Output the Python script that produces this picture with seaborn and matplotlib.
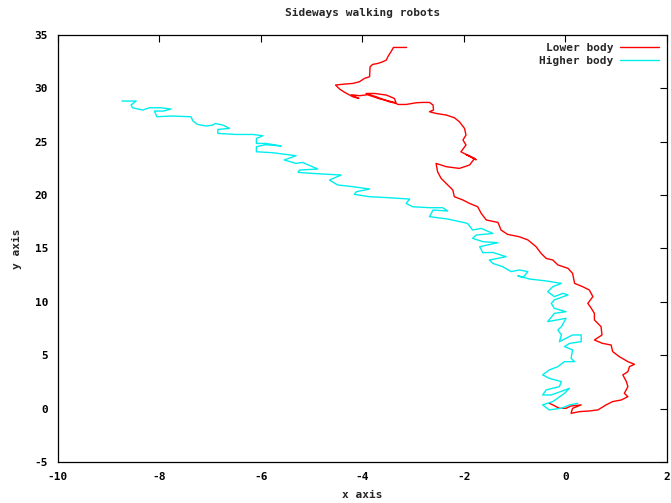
import numpy as np
import pandas as pd
import matplotlib
matplotlib.use("Agg")
import matplotlib.pyplot as plt
import seaborn as sns

# Lower body track
lower_x = [-0.32, -0.25, -0.12, 0.01, 0.11, 0.31, 0.14, 0.11, 0.28, 0.47, 0.64, 0.80, 0.93,
           1.10, 1.23, 1.16, 1.23, 1.20, 1.13, 1.23, 1.26, 1.36, 1.23, 1.06, 0.93, 0.90, 0.73,
           0.57, 0.72, 0.70, 0.57, 0.57, 0.51, 0.44, 0.54, 0.47, 0.34, 0.18, 0.14, 0.05, -0.15,
           -0.25, -0.38, -0.48, -0.58, -0.74, -0.91, -1.14, -1.27, -1.33, -1.56, -1.66, -1.73,
           -1.89, -2.02, -2.19, -2.22, -2.32, -2.45, -2.52, -2.55, -2.35, -2.09, -1.89, -1.79,
           -1.96, -1.76, -2.06, -1.96, -2.02, -1.96, -1.99, -2.09, -2.19, -2.35, -2.55, -2.68,
           -2.60, -2.61, -2.68, -2.81, -2.94, -3.14, -3.30, -3.34, -3.47, -3.73, -3.93, -3.76,
           -3.53, -3.37, -3.34, -3.67, -3.90, -4.06, -4.22, -4.07, -4.19, -4.35, -4.45, -4.53,
           -4.35, -4.19, -4.06, -3.96, -3.86, -3.85, -3.80, -3.70, -3.60, -3.53, -3.50, -3.43,
           -3.39, -3.13]
lower_y = [0.50, 0.35, 0.03, 0.03, 0.25, 0.35, 0.03, -0.44, -0.28, -0.22, -0.12, 0.35, 0.66,
           0.81, 1.12, 1.43, 2.06, 2.53, 3.16, 3.46, 3.93, 4.15, 4.40, 4.87, 5.34, 5.96, 6.11,
           6.43, 6.90, 7.68, 8.31, 8.92, 9.39, 9.86, 10.49, 11.11, 11.42, 11.73, 12.67, 13.14,
           13.46, 13.92, 14.07, 14.54, 15.17, 15.80, 16.10, 16.32, 16.73, 17.44, 17.67, 18.29,
           18.91, 19.22, 19.54, 19.85, 20.48, 20.95, 21.56, 22.19, 22.97, 22.66, 22.50, 22.82,
           23.44, 23.81, 23.31, 24.06, 24.69, 25.16, 25.63, 26.25, 26.87, 27.25, 27.50, 27.65,
           27.81, 27.97, 28.44, 28.68, 28.68, 28.65, 28.49, 28.49, 28.59, 28.74, 29.21, 29.52,
           29.52, 29.37, 29.05, 28.65, 29.03, 29.40, 29.31, 29.40, 29.05, 29.21, 29.62, 29.93,
           30.31, 30.40, 30.46, 30.62, 30.93, 31.09, 32.02, 32.24, 32.33, 32.49, 32.65, 32.96,
           33.49, 33.83, 33.83]

# Higher body track
higher_x = [-8.74, -8.46, -8.56, -8.53, -8.33, -8.20, -7.97, -7.77, -7.93, -8.10, -8.05, -7.77,
            -7.38, -7.34, -7.25, -7.08, -6.95, -6.90, -6.75, -6.62, -6.85, -6.85, -6.49, -6.16,
            -5.96, -6.09, -6.09, -5.90, -5.60, -5.91, -6.09, -6.09, -5.77, -5.31, -5.54, -5.31,
            -5.18, -4.88, -5.24, -5.27, -4.98, -4.42, -4.65, -4.49, -4.19, -3.86, -4.12, -4.16,
            -3.86, -3.50, -3.07, -3.14, -3.01, -2.68, -2.42, -2.32, -2.61, -2.68, -2.32, -1.93,
            -1.83, -1.66, -1.43, -1.76, -1.83, -1.63, -1.33, -1.69, -1.63, -1.43, -1.17, -1.50,
            -1.43, -1.24, -1.07, -0.91, -0.74, -0.84, -0.94, -0.71, -0.38, -0.08, -0.25, -0.35,
            -0.22, -0.05, 0.05, -0.22, -0.28, -0.22, 0.01, -0.22, -0.35, 0.01, -0.08, -0.15,
            -0.08, -0.12, 0.14, 0.31, 0.31, 0.08, -0.02, 0.14, 0.11, 0.18, -0.02, -0.15, -0.32,
            -0.45, -0.32, -0.08, -0.12, -0.38, -0.45, -0.28, 0.08, -0.02, -0.25, -0.45, -0.32,
            -0.08, 0.08, 0.24]
higher_y = [28.81, 28.81, 28.44, 28.18, 27.97, 28.18, 28.18, 28.06, 27.87, 27.87, 27.34, 27.41,
            27.34, 26.94, 26.62, 26.47, 26.56, 26.71, 26.56, 26.25, 26.15, 25.78, 25.68, 25.68,
            25.56, 25.31, 24.84, 24.84, 24.60, 24.72, 24.53, 24.06, 23.97, 23.69, 23.29, 22.97,
            23.06, 22.44, 22.35, 22.13, 22.03, 21.88, 21.41, 20.95, 20.79, 20.57, 20.32, 20.07,
            19.85, 19.76, 19.63, 19.22, 18.91, 18.82, 18.82, 18.51, 18.60, 17.98, 17.76, 17.35,
            16.73, 16.88, 16.41, 16.26, 15.95, 15.64, 15.54, 15.17, 14.61, 14.63, 14.23, 13.92,
            13.60, 13.30, 12.83, 12.99, 12.83, 12.27, 12.45, 12.14, 11.96, 11.73, 11.42, 10.95,
            10.49, 10.80, 10.65, 10.18, 9.86, 9.39, 9.08, 8.92, 8.15, 8.46, 7.68, 7.37, 6.90,
            6.27, 6.90, 6.90, 6.27, 6.11, 5.81, 5.50, 4.71, 4.40, 4.40, 3.93, 3.62, 3.16, 2.84,
            2.53, 2.06, 1.75, 1.28, 1.28, 1.90, 1.43, 0.66, 0.35, -0.12, 0.03, 0.35, 0.50]

x_ticks = [-10, -8, -6, -4, -2, 0, 2]
y_ticks = [-5, 0, 5, 10, 15, 20, 25, 30, 35]

df = pd.concat([
    pd.DataFrame({"x": lower_x, "y": lower_y, "series": "Lower body"}),
    pd.DataFrame({"x": higher_x, "y": higher_y, "series": "Higher body"}),
])

sns.set_style("white")
plt.rcParams["font.family"] = ["DejaVu Sans Mono"]
plt.rcParams["font.weight"] = "bold"
plt.rcParams["axes.unicode_minus"] = False

fig = plt.figure(figsize=(6.71, 5.03), dpi=100)
ax = fig.add_axes([0.0864, 0.0815, 0.9076, 0.849])

# each series is one path, drawn in data order
sns.lineplot(data=df, x="x", y="y", hue="series", sort=False, estimator=None,
             hue_order=["Lower body", "Higher body"],
             palette={"Lower body": "#ff0000", "Higher body": "#00eeee"},
             linewidth=1.0, ax=ax)

ax.set_xlim(-10, 2)
ax.set_ylim(-5, 35)
ax.set_xticks(x_ticks)
ax.set_yticks(y_ticks)
ax.tick_params(direction="in", top=True, right=True, length=5, width=0.8,
               labelsize=8, pad=7, colors="black")
for s in ax.spines.values():
    s.set_color("black")
    s.set_linewidth(0.9)

ax.set_title("Sideways walking robots", fontsize=8, fontweight="bold", pad=14)
ax.set_xlabel("x axis", fontsize=8, fontweight="bold", labelpad=6)
ax.set_ylabel("y axis", fontsize=8, fontweight="bold", labelpad=9)

ax.legend(loc="upper right", frameon=False, markerfirst=False,
          handlelength=3.5, handletextpad=0.6, labelspacing=0.25,
          borderaxespad=0.3, prop={"weight": "bold", "size": 8})

fig.savefig("out.png", dpi=100)
